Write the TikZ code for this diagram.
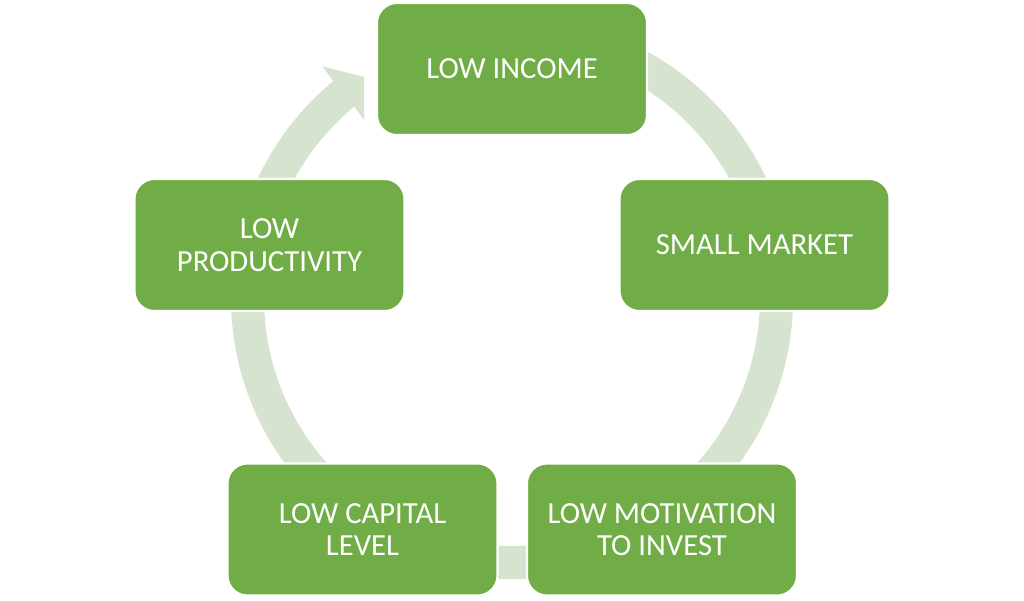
\documentclass[tikz,border=0pt]{standalone}
\usepackage{fontspec}
\setmainfont{Carlito}
\usepackage{tikz}
\usetikzlibrary{calc}
\definecolor{stagegreen}{RGB}{112,173,71}
\definecolor{bandgreen}{RGB}{213,227,207}

\begin{document}
\begin{tikzpicture}[x=0.025cm,y=0.025cm]
		\tikzstyle{stage}=[draw=white, line width=1.5pt, fill=stagegreen, text=white, rounded corners=0.5cm, minimum width=6.75cm, minimum height=3.3cm, align=center, font=\fontsize{21.8}{23.2}\selectfont]
		\tikzstyle{band}=[fill=bandgreen, draw=none]

		\useasboundingbox [fill=white] (0,0) rectangle (1024,600);
		\coordinate (C) at (512,302);

		% the cycle band, ending in the arrow head
		\path [band] ($(C)+(62:281)$) arc[start angle=62, end angle=-230.5, radius=281]
			-- ($(C)+(129.3:299.5)$) -- ($(C)+(123.8:266)$) -- ($(C)+(129.7:231.5)$)
			-- ($(C)+(129.5:248)$) arc[start angle=-230.5, end angle=62, radius=248] -- cycle;

		\node [stage] (income) at (512,531) {LOW INCOME};
		\node [stage] (market) at (754.5,355) {SMALL MARKET};
		\node [stage] (motivation) at (662,70.5) {LOW MOTIVATION\\TO INVEST};
		\node [stage] (capital) at (362.5,70.5) {LOW CAPITAL\\LEVEL};
		\node [stage] (productivity) at (269.5,355) {LOW\\PRODUCTIVITY};

	\end{tikzpicture}
\end{document}
